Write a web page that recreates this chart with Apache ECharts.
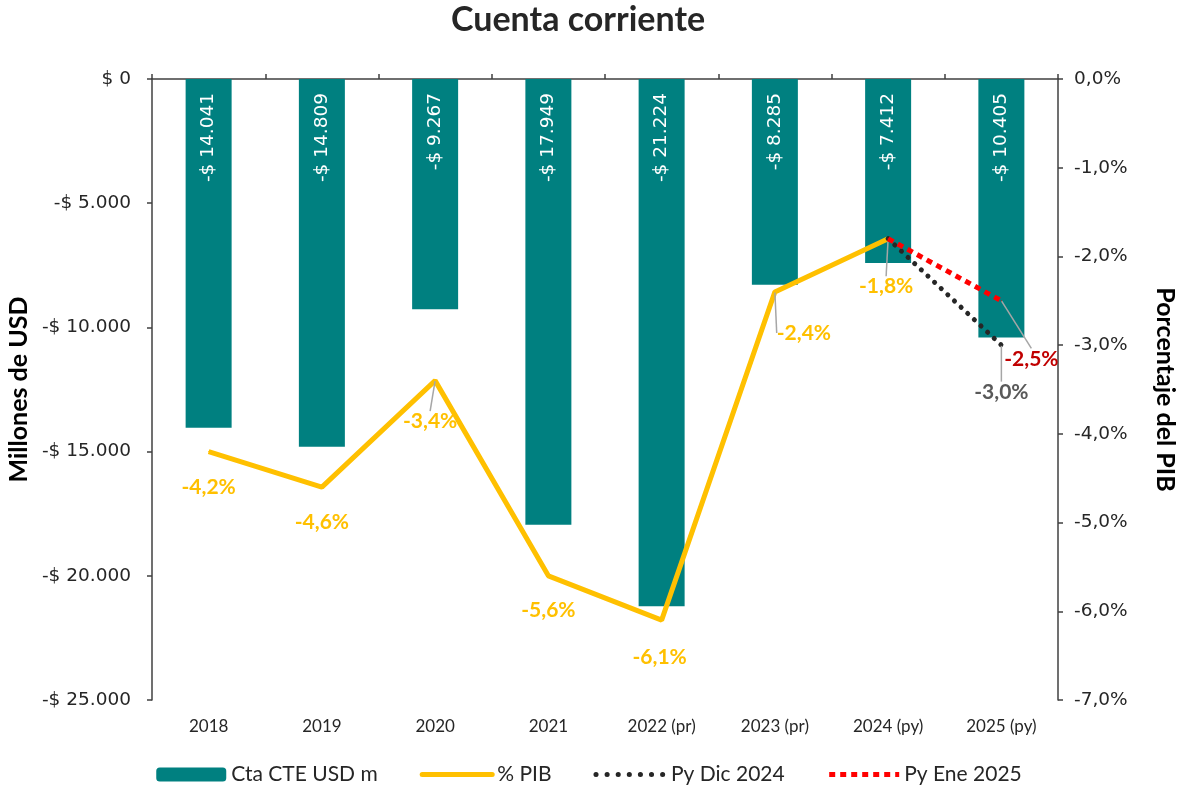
<!DOCTYPE html>
<html>
<head>
<meta charset="utf-8">
<script src="https://cdn.jsdelivr.net/npm/echarts@6/dist/echarts.min.js"></script>
<style>
  html, body { margin: 0; padding: 0; background: #fff; }
  #chart { width: 1178px; height: 794px; }
</style>
</head>
<body>
<div id="chart"></div>
<script>
// datos
const years = ['2018', '2019', '2020', '2021', '2022 (pr)', '2023 (pr)', '2024 (py)', '2025 (py)']
const ctaUsd = [-14041, -14809, -9267, -17949, -21224, -8285, -7412, -10405]
const pibPct = [-4.2, -4.6, -3.4, -5.6, -6.1, -2.4, -1.8, null]
const pyDic2024 = [null, null, null, null, null, null, -1.8, -3.0]
const pyEne2025 = [null, null, null, null, null, null, -1.8, -2.5]
const leftTicks = [0, -5000, -10000, -15000, -20000, -25000]
const rightTicks = [0, -1, -2, -3, -4, -5, -6, -7]

const FONT = 'Lato, "Open Sans", sans-serif'
const WIDE = '"DejaVu Sans", Verdana, sans-serif'
const AXIS = '#404040'

// desplazamiento de etiquetas del % PIB
const pibOffsets = [[0, 36], [0, 35], [-5, 41], [0, 34], [-2, 37], [29, 41], [-2, 48], [0, 0]]
const pibLeader = [2, 5, 6]

function money(v) {
  if (v === 0) return '$ 0'
  const s = Math.abs(v).toString().replace(/\B(?=(\d{3})+(?!\d))/g, '.')
  return (v < 0 ? '-$ ' : '$ ') + s
}
function pct(v) {
  return v.toFixed(1).replace('.', ',') + '%'
}

const chart = echarts.init(document.getElementById('chart'))
chart.setOption({
  animation: false,
  textStyle: { fontFamily: FONT },
  title: {
    text: 'Cuenta corriente',
    left: 446,
    top: -2,
    textStyle: { fontFamily: FONT, fontSize: 34, fontWeight: 'bold', color: '#262626' }
  },
  grid: { left: 152, right: 120, top: 79, bottom: 94, outerBoundsMode: 'none', containLabel: false },
  legend: {
    bottom: 4,
    left: 'center',
    itemWidth: 70,
    itemHeight: 14,
    itemGap: 42,
    textStyle: { fontFamily: FONT, fontSize: 21, color: '#262626' },
    data: [
      { name: 'Cta CTE USD m' },
      { name: '% PIB', itemStyle: { opacity: 0 }, lineStyle: { width: 5, cap: 'round' } },
      { name: 'Py Dic 2024', itemStyle: { opacity: 0 }, lineStyle: { width: 5, type: [0.1, 11], cap: 'round' } },
      { name: 'Py Ene 2025', itemStyle: { opacity: 0 }, lineStyle: { width: 5, type: [6, 5] } }
    ]
  },
  xAxis: [
    {
      type: 'category',
      data: years,
      position: 'top',
      axisLine: { show: true, lineStyle: { color: AXIS, width: 1.5 } },
      axisTick: { show: true, length: 5, lineStyle: { color: AXIS, width: 1.5 } },
      axisLabel: { show: false }
    },
    {
      type: 'category',
      data: years,
      position: 'bottom',
      axisLine: { show: false },
      axisTick: { show: false },
      axisLabel: { fontFamily: FONT, fontSize: 17, color: '#262626', margin: 18 }
    }
  ],
  yAxis: [
    {
      type: 'value',
      min: -25000,
      max: 0,
      interval: 5000,
      position: 'left',
      name: 'Millones de USD',
      nameLocation: 'middle',
      nameRotate: 90,
      nameGap: 121,
      nameTextStyle: { fontFamily: FONT, fontSize: 25, fontWeight: 'bold', color: '#000' },
      axisLine: { show: true, lineStyle: { color: AXIS, width: 1.5 } },
      axisTick: { show: true, length: 5, lineStyle: { color: AXIS, width: 1.5 } },
      splitLine: { show: false },
      axisLabel: {
        fontFamily: WIDE, fontSize: 18.5, color: '#262626', margin: 21,
        formatter: v => leftTicks.includes(v) ? money(v) : ''
      }
    },
    {
      type: 'value',
      min: -7,
      max: 0,
      interval: 1,
      position: 'right',
      name: 'Porcentaje del PIB',
      nameLocation: 'middle',
      nameRotate: -90,
      nameGap: 95,
      nameTextStyle: { fontFamily: FONT, fontSize: 25, fontWeight: 'bold', color: '#000' },
      axisLine: { show: true, lineStyle: { color: AXIS, width: 1.5 } },
      axisTick: { show: true, length: 5, lineStyle: { color: AXIS, width: 1.5 } },
      splitLine: { show: false },
      axisLabel: {
        fontFamily: WIDE, fontSize: 18.5, color: '#262626', margin: 16,
        formatter: v => rightTicks.includes(Math.round(v)) ? pct(v) : ''
      }
    }
  ],
  series: [
    {
      name: 'Cta CTE USD m',
      type: 'bar',
      xAxisIndex: 0,
      yAxisIndex: 0,
      data: ctaUsd,
      barWidth: 46,
      itemStyle: { color: '#008080' },
      label: {
        show: true,
        position: 'insideTop',
        distance: 14,
        rotate: 90,
        align: 'right',
        verticalAlign: 'middle',
        color: '#fff',
        fontFamily: WIDE,
        fontSize: 18.5,
        formatter: p => money(p.value)
      }
    },
    {
      name: '% PIB',
      type: 'line',
      xAxisIndex: 0,
      yAxisIndex: 1,
      data: pibPct.map((v, i) => pibLeader.includes(i) ? { value: v, labelLine: { show: true } } : v),
      symbol: 'circle',
      symbolSize: 1,
      showSymbol: true,
      z: 5,
      lineStyle: { color: '#FFC000', width: 5 },
      itemStyle: { color: '#FFC000' },
      label: {
        show: true,
        position: 'inside',
        color: '#FFC000',
        fontFamily: FONT,
        fontSize: 21,
        fontWeight: 'bold',
        formatter: p => pct(p.value)
      },
      labelLine: { show: false, lineStyle: { color: '#A6A6A6', width: 1.5 } },
      labelLayout: p => ({ dx: pibOffsets[p.dataIndex][0], dy: pibOffsets[p.dataIndex][1] })
    },
    {
      name: 'Py Dic 2024',
      type: 'line',
      xAxisIndex: 0,
      yAxisIndex: 1,
      data: pyDic2024.map((v, i) => i === 7 ? { value: v, label: { show: true }, labelLine: { show: true } } : v),
      symbol: 'circle',
      symbolSize: 1,
      z: 6,
      lineStyle: { color: '#262626', width: 5, type: [0.1, 9], cap: 'round' },
      itemStyle: { color: '#262626' },
      label: {
        show: false,
        position: 'inside',
        color: '#595959',
        fontFamily: FONT,
        fontSize: 21,
        fontWeight: 'bold',
        formatter: p => pct(p.value)
      },
      labelLine: { show: false, lineStyle: { color: '#A6A6A6', width: 1.5 } },
      labelLayout: p => ({ dx: 0, dy: 47 })
    },
    {
      name: 'Py Ene 2025',
      type: 'line',
      xAxisIndex: 0,
      yAxisIndex: 1,
      data: pyEne2025.map((v, i) => i === 7 ? { value: v, label: { show: true }, labelLine: { show: true } } : v),
      symbol: 'circle',
      symbolSize: 1,
      z: 7,
      lineStyle: { color: '#FF0000', width: 5, type: [6, 5] },
      itemStyle: { color: '#FF0000' },
      label: {
        show: false,
        position: 'inside',
        color: '#C00000',
        fontFamily: FONT,
        fontSize: 21,
        fontWeight: 'bold',
        formatter: p => pct(p.value)
      },
      labelLine: { show: false, lineStyle: { color: '#A6A6A6', width: 1.5 } },
      labelLayout: p => ({ dx: 30, dy: 58 })
    }
  ]
})
</script>
</body>
</html>
